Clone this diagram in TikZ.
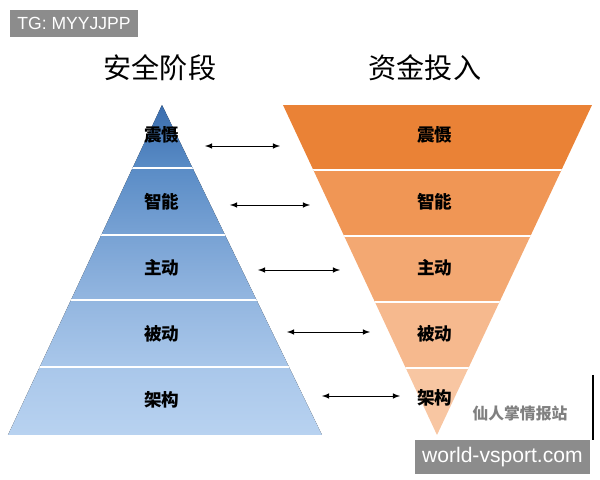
\documentclass[tikz,border=0pt]{standalone}
\usepackage{fontspec}
\setmainfont{Noto Sans CJK SC}
\newfontfamily\latinfont{Liberation Sans}
\definecolor{bA}{HTML}{3A6DAE}
\definecolor{bB}{HTML}{5A8CC6}
\definecolor{bC}{HTML}{78A2D4}
\definecolor{bD}{HTML}{93B6E0}
\definecolor{bE}{HTML}{A9C7EA}
\definecolor{bF}{HTML}{B8D2F0}
\definecolor{oA}{HTML}{EA8236}
\definecolor{oB}{HTML}{F09655}
\definecolor{oC}{HTML}{F3A872}
\definecolor{oD}{HTML}{F6B98E}
\definecolor{oE}{HTML}{F8C6A2}
\begin{document}
\begin{tikzpicture}[x=0.02cm,y=-0.02cm,
    lbl/.style={font=\bfseries\fontsize{10}{12}\selectfont},
    ttl/.style={font=\fontsize{16}{19}\selectfont},
    link/.style={<->,>=latex,thin},
    tag/.style={fill=black!45,text=white,font=\latinfont\fontsize{10}{12}\selectfont,inner sep=4pt}]
    \useasboundingbox (0,0) rectangle (600,480);
    \node[ttl] (lt) at (160,68) {安全阶段};
    \node[ttl] (rt) at (425,68) {资金投入};
    % left pyramid
    \begin{scope}
        \clip (162,105) -- (322,435) -- (8,435) -- cycle;
        \fill[top color=bA, bottom color=bB] (0,105) rectangle (340,168);
        \fill[top color=bB, bottom color=bC] (0,168) rectangle (340,235);
        \fill[top color=bC, bottom color=bD] (0,235) rectangle (340,300);
        \fill[top color=bD, bottom color=bE] (0,300) rectangle (340,367);
        \fill[top color=bE, bottom color=bF] (0,367) rectangle (340,435);
        \foreach \y in {168,235,300,367}
            \draw[white,thick] (0,\y) -- (340,\y);
    \end{scope}
    % right funnel
    \begin{scope}
        \clip (283,105) -- (592,105) -- (437,435) -- cycle;
        \fill[oA] (280,105) rectangle (600,170);
        \fill[oB] (280,170) rectangle (600,236);
        \fill[oC] (280,236) rectangle (600,302);
        \fill[oD] (280,302) rectangle (600,368);
        \fill[oE] (280,368) rectangle (600,435);
        \foreach \y in {170,236,302,368}
            \draw[white,thick] (280,\y) -- (600,\y);
    \end{scope}
    % labels
    \node[lbl] (l1) at (162,135) {震慑};
    \node[lbl] (l2) at (162,202) {智能};
    \node[lbl] (l3) at (162,268) {主动};
    \node[lbl] (l4) at (162,334) {被动};
    \node[lbl] (l5) at (162,400) {架构};
    \node[lbl] (r1) at (435,135) {震慑};
    \node[lbl] (r2) at (435,202) {智能};
    \node[lbl] (r3) at (435,268) {主动};
    \node[lbl] (r4) at (435,334) {被动};
    \node[lbl] (r5) at (435,398) {架构};
    % arrows
    \coordinate (a1) at (205,146); \coordinate (b1) at (280,146);
    \coordinate (a2) at (230,205); \coordinate (b2) at (310,205);
    \coordinate (a3) at (258,270); \coordinate (b3) at (340,270);
    \coordinate (a4) at (287,332); \coordinate (b4) at (370,332);
    \coordinate (a5) at (322,396); \coordinate (b5) at (400,396);
    \foreach \i in {1,...,5}
        \draw[link] (a\i) -- (b\i);
    % watermarks
    \node[tag,anchor=north west] (tg) at (10,10) {TG: MYYJJPP};
    \node[tag,anchor=north east,font=\latinfont\fontsize{12}{14}\selectfont] (ws) at (590,440) {world-vsport.com};
    \node[text=black!50,font=\bfseries\fontsize{9}{11}\selectfont] (wx) at (520,413) {仙人掌情报站};
    \draw[line width=1.2pt] (593,375) -- (593,440);
\end{tikzpicture}
\end{document}
